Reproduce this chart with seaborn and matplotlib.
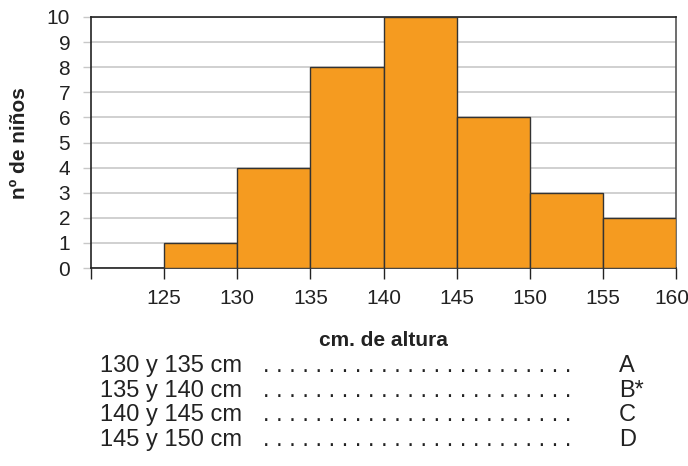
import matplotlib
matplotlib.use("Agg")
import matplotlib.pyplot as plt
import matplotlib.transforms as mtransforms
import seaborn as sns
import numpy as np

# Data
bin_edges = [125, 130, 135, 140, 145, 150, 155, 160]
counts = [1, 4, 8, 10, 6, 3, 2]
xtick_vals = [120, 125, 130, 135, 140, 145, 150, 155, 160]
xtick_labels = ["", "125", "130", "135", "140", "145", "150", "155", "160"]
yticks = list(range(0, 11))
options = ["130 y 135 cm", "135 y 140 cm", "140 y 145 cm", "145 y 150 cm"]
letters = ["A", "B*", "C", "D"]

sns.set_theme(style="white")
plt.rcParams['font.family'] = ['Liberation Sans', 'DejaVu Sans']

W, H = 688, 466
fig = plt.figure(figsize=(W / 100, H / 100), dpi=100)
ax = fig.add_axes([91 / W, (H - 268) / H, (676 - 91) / W, (268 - 17) / H])

mids = [(bin_edges[i] + bin_edges[i + 1]) / 2 for i in range(len(counts))]
sns.histplot(x=mids, weights=counts, bins=bin_edges, ax=ax,
             color="#F59B20", edgecolor="#333333", linewidth=1.0, alpha=1.0, zorder=3)

ax.set_xlim(120, 160)
ax.set_ylim(0, 10)
ax.set_yticks(yticks)
ax.set_xticks(xtick_vals)
ax.set_xticklabels(xtick_labels)
ax.yaxis.grid(True, color="#C8C8C8", linewidth=1.2, zorder=0)
ax.xaxis.grid(False)
ax.set_axisbelow(True)

for side in ["left", "bottom", "top"]:
    ax.spines[side].set_color("#222222")
    ax.spines[side].set_linewidth(1.2)
ax.spines["right"].set_color("#555555")
ax.spines["right"].set_linewidth(1.2)

ax.tick_params(axis="y", which="both", left=True, length=6, width=1, color="#C8C8C8",
               labelsize=15, pad=9, labelcolor="#222222")
ax.tick_params(axis="x", which="both", bottom=True, length=8, width=1, color="#222222",
               labelsize=15, pad=7, labelcolor="#222222")

# keep the last x label inside the figure, as in the reference
last = ax.get_xticklabels()[-1]
last.set_transform(last.get_transform() + mtransforms.ScaledTranslation(-4 / 100, 0, fig.dpi_scale_trans))

ax.set_ylabel("")
ax.set_xlabel("")

fig.text(20 / W, 1 - 143 / H, "nº de niños", rotation=90, ha="center", va="center",
         fontsize=15, fontweight="bold", color="#222222")
fig.text(383 / W, 1 - 340 / H, "cm. de altura", ha="center", va="center",
         fontsize=15, fontweight="bold", color="#222222")

ys = [366, 391, 415, 440]
dots = " ".join(["."] * 24)
for opt, let, y in zip(options, letters, ys):
    fig.text(100 / W, 1 - y / H, opt, ha="left", va="center", fontsize=17, color="#222222")
    fig.text(263 / W, 1 - y / H, dots, ha="left", va="center", fontsize=17, color="#222222")
    fig.text(619 / W, 1 - y / H, let, ha="left", va="center", fontsize=17, color="#222222")

fig.savefig("out.png", dpi=100)
